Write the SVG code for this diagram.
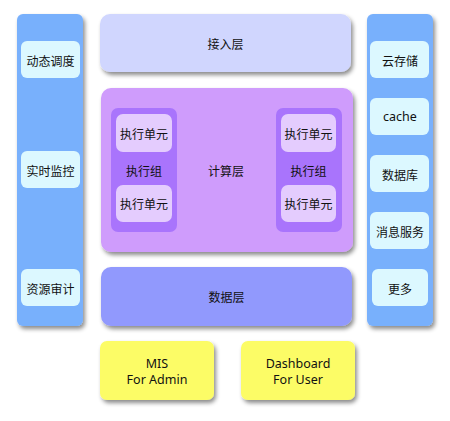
<svg xmlns="http://www.w3.org/2000/svg" width="450" height="421" viewBox="0 0 450 421">
<defs>
<filter id="sh" x="-20%" y="-20%" width="140%" height="140%">
<feDropShadow dx="2" dy="3" stdDeviation="2" flood-color="#000" flood-opacity="0.45"/>
</filter>
<style>
text{font-family:"Noto Sans CJK SC","Noto Sans",sans-serif;font-size:12px;fill:#111;text-anchor:middle;dominant-baseline:central}
.en{font-family:"Noto Sans","Noto Sans CJK SC",sans-serif;font-size:12.5px}
.col{fill:#78b0fc;filter:url(#sh)}
.item{fill:#dcf8ff}
.grp{fill:#a974fc}
.unit{fill:#e4ccfe}
.yel{fill:#fcfc66;filter:url(#sh)}
</style>
</defs>
<rect width="450" height="421" fill="#fff"/>
<g id="left-column">
<rect class="col" x="17" y="14" width="66" height="312" rx="6"/>
</g>
<g id="n-dongtai"><rect class="item" x="21" y="41" width="59" height="37" rx="6"/><text x="50.5" y="60">动态调度</text></g>
<g id="n-shishi"><rect class="item" x="21" y="151" width="59" height="37" rx="6"/><text x="50.5" y="170">实时监控</text></g>
<g id="n-ziyuan"><rect class="item" x="21" y="269" width="59" height="37" rx="6"/><text x="50.5" y="288">资源审计</text></g>

<g id="n-jieru"><rect x="100" y="14" width="251" height="58" rx="10" fill="#d0d6fe" filter="url(#sh)"/><text x="225.5" y="43">接入层</text></g>

<g id="n-jisuan"><rect x="101" y="88" width="252" height="164" rx="10" fill="#cf9cfc" filter="url(#sh)"/><text x="226" y="170">计算层</text></g>

<g id="n-group-left">
<rect class="grp" x="111" y="108" width="66" height="124" rx="7"/>
<text x="144" y="170">执行组</text>
</g>
<g id="n-unit-l1"><rect class="unit" x="116" y="114" width="56" height="38" rx="7"/><text x="144" y="133">执行单元</text></g>
<g id="n-unit-l2"><rect class="unit" x="116" y="185" width="56" height="37" rx="7"/><text x="144" y="203.5">执行单元</text></g>

<g id="n-group-right">
<rect class="grp" x="276" y="108" width="66" height="124" rx="7"/>
<text x="308.5" y="170">执行组</text>
</g>
<g id="n-unit-r1"><rect class="unit" x="281" y="114" width="55" height="38" rx="7"/><text x="308.5" y="133">执行单元</text></g>
<g id="n-unit-r2"><rect class="unit" x="281" y="185" width="55" height="37" rx="7"/><text x="308.5" y="203.5">执行单元</text></g>

<g id="n-shuju"><rect x="101" y="267" width="251" height="59" rx="10" fill="#9199fd" filter="url(#sh)"/><text x="226.5" y="296.5">数据层</text></g>

<g id="right-column">
<rect class="col" x="367" y="14" width="66" height="312" rx="6"/>
</g>
<g id="n-yuncunchu"><rect class="item" x="370" y="41" width="59" height="37" rx="6"/><text x="400" y="60">云存储</text></g>
<g id="n-cache"><rect class="item" x="370" y="98" width="59" height="37" rx="6"/><text class="en" x="400" y="116.5">cache</text></g>
<g id="n-shujuku"><rect class="item" x="370" y="155" width="59" height="37" rx="6"/><text x="400" y="174">数据库</text></g>
<g id="n-xiaoxi"><rect class="item" x="370" y="212" width="59" height="37" rx="6"/><text x="400" y="231">消息服务</text></g>
<g id="n-gengduo"><rect class="item" x="372" y="269" width="56" height="37" rx="6"/><text x="400" y="288">更多</text></g>

<g id="n-mis"><rect class="yel" x="100" y="341" width="114" height="59" rx="7"/><text class="en" x="157" y="363">MIS</text><text class="en" x="157" y="379">For Admin</text></g>
<g id="n-dashboard"><rect class="yel" x="241" y="341" width="114" height="59" rx="7"/><text class="en" x="298" y="363">Dashboard</text><text class="en" x="298" y="379">For User</text></g>

<g id="connectors"></g>
</svg>
